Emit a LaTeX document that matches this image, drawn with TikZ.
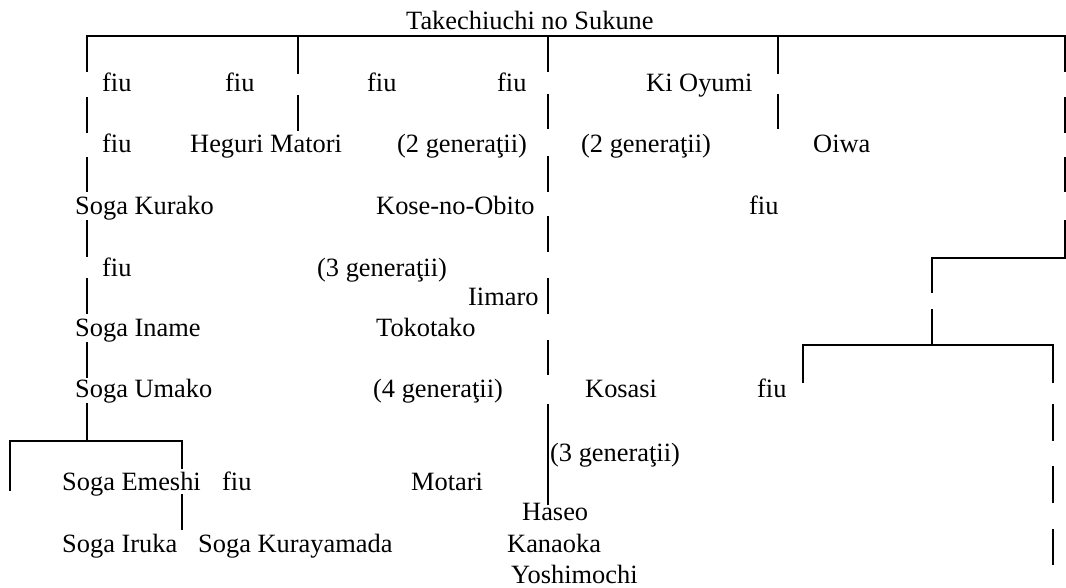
\documentclass[tikz,border=0pt]{standalone}
\usepackage{fontspec}
\setmainfont{Liberation Serif}
\begin{document}
\begin{tikzpicture}[x=1pt,y=-1pt,
  txt/.style={anchor=base west,inner sep=0pt,font=\fontsize{26.4}{31}\selectfont},
  ln/.style={line width=1.5pt}]
\useasboundingbox (0,0) rectangle (1066,587);
% texts
\node[txt] (root) at (406,29) {Takechiuchi no Sukune};
\node[txt] (a1) at (102,91) {fiu};
\node[txt] (b1) at (225,91) {fiu};
\node[txt] (c1) at (367,91) {fiu};
\node[txt] (d1) at (497,91) {fiu};
\node[txt] (e1) at (646,91) {Ki Oyumi};
\node[txt] (a2) at (102,152) {fiu};
\node[txt] (b2) at (190,152) {Heguri Matori};
\node[txt] (c2) at (397,152) {(2 generaţii)};
\node[txt] (e2) at (581,152) {(2 generaţii)};
\node[txt] (f2) at (813,152) {Oiwa};
\node[txt] (a3) at (75,214) {Soga Kurako};
\node[txt] (c3) at (376,214) {Kose-no-Obito};
\node[txt] (f3) at (749,214) {fiu};
\node[txt] (a4) at (102,276) {fiu};
\node[txt] (c4) at (317,276) {(3 generaţii)};
\node[txt] (c5) at (468,305) {Iimaro};
\node[txt] (a5) at (75,336) {Soga Iname};
\node[txt] (c6) at (376,336) {Tokotako};
\node[txt] (a6) at (75,397) {Soga Umako};
\node[txt] (c7) at (373,397) {(4 generaţii)};
\node[txt] (e3) at (585,397) {Kosasi};
\node[txt] (f4) at (757,397) {fiu};
\node[txt] (e4) at (550,461) {(3 generaţii)};
\node[txt] (a7) at (62,490) {Soga Emeshi};
\node[txt] (b7) at (222,490) {fiu};
\node[txt] (c8) at (411,490) {Motari};
\node[txt] (e5) at (522,520) {Haseo};
\node[txt] (a8) at (62,552) {Soga Iruka};
\node[txt] (b8) at (198,552) {Soga Kurayamada};
\node[txt] (e6) at (507,552) {Kanaoka};
\node[txt] (e7) at (511,583) {Yoshimochi};
% lines
\draw[ln] (87,72) -- (87,36) -- (1066,36);
\draw[ln] (87,97) -- (87,133) (87,157) -- (87,192) (87,220) -- (87,257)
  (87,278) -- (87,314) (87,342) -- (87,378);
\draw[ln] (87,403) -- (87,441);
\draw[ln] (10,491) -- (10,441) -- (182,441) -- (182,469);
\draw[ln] (182,494) -- (182,530);
\draw[ln] (298,37) -- (298,74) (298,95) -- (298,131);
\draw[ln] (548,37) -- (548,72) (548,94) -- (548,129) (548,156) -- (548,192)
  (548,216) -- (548,252) (548,278) -- (548,314) (548,340) -- (548,375)
  (548,404) -- (548,505);
\draw[ln] (778,37) -- (778,74) (778,94) -- (778,129);
\draw[ln] (1065,37) -- (1065,72) (1065,97) -- (1065,133) (1065,157) -- (1065,192);
\draw[ln] (1065,220) -- (1065,258) -- (932,258) -- (932,293);
\draw[ln] (932,309) -- (932,345);
\draw[ln] (803,383) -- (803,345) -- (1053,345) -- (1053,383);
\draw[ln] (1053,404) -- (1053,441) (1053,466) -- (1053,503) (1053,529) -- (1053,565);
\end{tikzpicture}
\end{document}
